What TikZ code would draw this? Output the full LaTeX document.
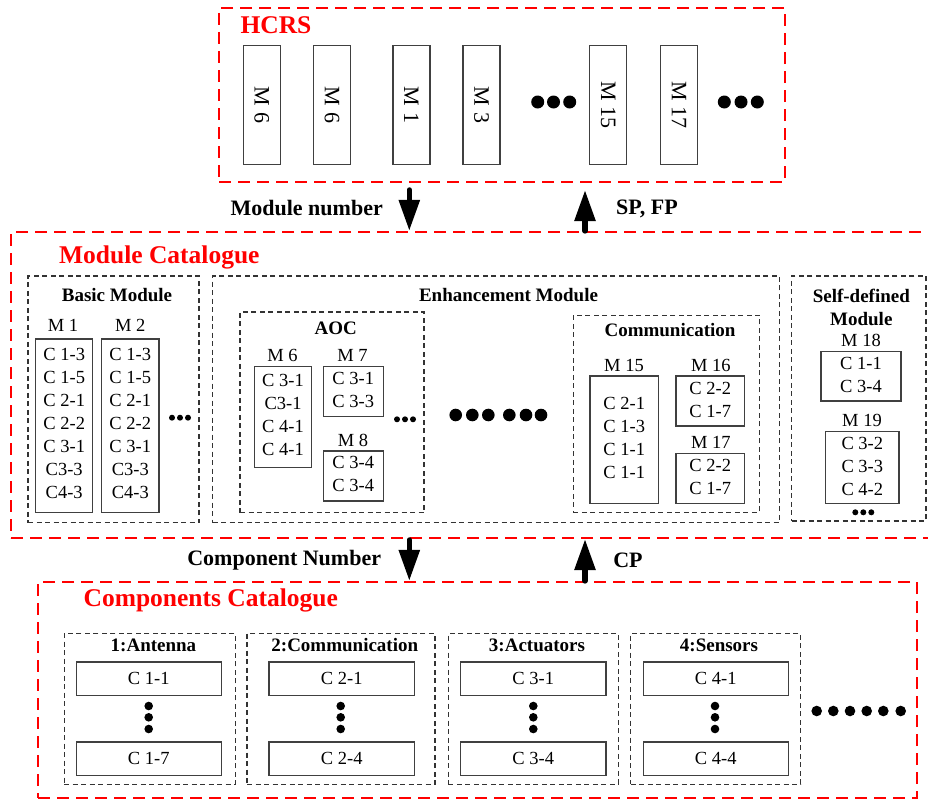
\documentclass[tikz,border=0pt]{standalone}
\usepackage{fontspec}
\setmainfont{Liberation Serif}
\usetikzlibrary{arrows.meta}
\begin{document}
\begin{tikzpicture}[x=1pt,y=-1pt,
  redbox/.style={draw=red, line width=2.2pt, dash pattern=on 12pt off 7pt, inner sep=0pt},
  grpbox/.style={draw=black!80, line width=1.1pt, dash pattern=on 5pt off 3.5pt, inner sep=0pt},
  mbox/.style={draw=black!75, line width=1.2pt, inner sep=0pt},
  hbox/.style={mbox, rotate=-90, minimum width=119pt, minimum height=37pt,
    font=\fontsize{22}{26}\selectfont},
  ctext/.style={inner sep=0pt, align=center, font=\fontsize{18.5}{23}\selectfont},
  subtitle/.style={inner sep=0pt, align=center, font=\bfseries\fontsize{19}{23.3}\selectfont},
  arrowlbl/.style={inner sep=0pt, font=\bfseries\fontsize{22}{26}\selectfont},
  redtitle/.style={inner sep=0pt, text=red, font=\bfseries\fontsize{25.5}{30}\selectfont},
  bigarrow/.style={line width=5.5pt, line cap=round, -{Triangle[length=31pt,width=20pt]}},
  dot/.style={fill=black}
]
\useasboundingbox (0,0) rectangle (928,800);
\clip (0,0) rectangle (928,800);

% ---------------- HCRS ----------------
\node[redbox, minimum width=566pt, minimum height=174pt] (hcrs) at (502,95) {};
\node[redtitle] (hcrsT) at (276,25) {HCRS};
\node[hbox] (h1) at (261.7,105) {M 6};
\node[hbox] (h2) at (332,105) {M 6};
\node[hbox] (h3) at (411.5,105) {M 1};
\node[hbox] (h4) at (481.5,105) {M 3};
\node[hbox] (h5) at (608.3,105) {M 15};
\node[hbox] (h6) at (679.2,105) {M 17};
\foreach \x in {537.7,553.5,569.7,724.3,741,757.3}
  \fill[dot] (\x,102) circle (6.5pt);

% ---------------- Module Catalogue ----------------
\node[redbox, minimum width=929pt, minimum height=306pt] (modcat) at (475.5,385) {};
\node[redtitle] (modcatT) at (159.3,257.3) {Module Catalogue};

% Basic modules
\node[grpbox, minimum width=171pt, minimum height=246.7pt] (basic) at (113.5,399.3) {};
\node[subtitle] (basicT) at (117,295) {Basic Module};
\node[ctext] (m1L) at (63,325.7) {M 1};
\node[mbox, minimum width=57pt, minimum height=173.7pt] (m1) at (64.2,425.8) {};
\node[ctext] at (64.2,423) {C 1-3\\C 1-5\\C 2-1\\C 2-2\\C 3-1\\C3-3\\C4-3};
\node[ctext] (m2L) at (130.3,325.7) {M 2};
\node[mbox, minimum width=57.3pt, minimum height=173.7pt] (m2) at (130.3,425.8) {};
\node[ctext] at (130.3,423) {C 1-3\\C 1-5\\C 2-1\\C 2-2\\C 3-1\\C3-3\\C4-3};
\foreach \x in {172,180,188}
  \fill[dot] (\x,417.7) circle (3pt);

% Enhancement modules
\node[grpbox, minimum width=566.6pt, minimum height=246.7pt] (enh) at (496,399.3) {};
\node[subtitle] (enhT) at (508.5,295) {Enhancement Module};

\node[grpbox, minimum width=184pt, minimum height=200.7pt] (aoc) at (332,412.3) {};
\node[subtitle] (aocT) at (335.8,328) {AOC};
\node[ctext] (m6L) at (282.5,355.7) {M 6};
\node[mbox, minimum width=57.4pt, minimum height=100.6pt] (m6) at (283,417) {};
\node[ctext] at (283,414.6) {C 3-1\\C3-1\\C 4-1\\C 4-1};
\node[ctext] (m7L) at (352.5,355.7) {M 7};
\node[mbox, minimum width=60pt, minimum height=50pt] (m7) at (353.3,391.7) {};
\node[ctext] at (353.3,390) {C 3-1\\C 3-3};
\node[ctext] (m8L) at (353,440) {M 8};
\node[mbox, minimum width=60pt, minimum height=50pt] (m8) at (353.3,476) {};
\node[ctext] at (353.3,474.2) {C 3-4\\C 3-4};
\foreach \x in {397,405,413}
  \fill[dot] (\x,419.3) circle (3pt);

\foreach \x in {455.7,472.3,488.3,509.3,526,541}
  \fill[dot] (\x,415) circle (6.3pt);

\node[grpbox, minimum width=186pt, minimum height=197.3pt] (comm) at (666.3,413.7) {};
\node[subtitle] (commT) at (670,330) {Communication};
\node[ctext] (m15L) at (624,365.7) {M 15};
\node[mbox, minimum width=68.3pt, minimum height=127.3pt] (m15) at (624.2,439.7) {};
\node[ctext] at (624.2,437.5) {C 2-1\\C 1-3\\C 1-1\\C 1-1};
\node[ctext] (m16L) at (710.8,365.7) {M 16};
\node[mbox, minimum width=68.3pt, minimum height=50pt] (m16) at (710.2,401) {};
\node[ctext] at (710.2,399.7) {C 2-2\\C 1-7};
\node[ctext] (m17L) at (710.8,442.3) {M 17};
\node[mbox, minimum width=68.3pt, minimum height=50pt] (m17) at (710.2,478.3) {};
\node[ctext] at (710.2,477) {C 2-2\\C 1-7};

% Self-defined modules
\node[grpbox, minimum width=134.3pt, minimum height=245pt] (self) at (858.8,398.5) {};
\node[subtitle] (selfT) at (861.3,307.3) {Self-defined\\Module};
\node[ctext] (m18L) at (861,340.7) {M 18};
\node[mbox, minimum width=80pt, minimum height=49.3pt] (m18) at (861,376.3) {};
\node[ctext] at (861,375) {C 1-1\\C 3-4};
\node[ctext] (m19L) at (862,420.7) {M 19};
\node[mbox, minimum width=73.3pt, minimum height=71.6pt] (m19) at (862.3,467.5) {};
\node[ctext] at (862.3,466.2) {C 3-2\\C 3-3\\C 4-2};
\foreach \x in {855.3,863.3,871.3}
  \fill[dot] (\x,512.3) circle (3pt);

% ---------------- Components Catalogue ----------------
\node[redbox, minimum width=879pt, minimum height=216pt] (compcat) at (477.5,690) {};
\node[redtitle] (compcatT) at (210.8,600) {Components Catalogue};

\node[grpbox, minimum width=171.3pt, minimum height=150.7pt] (ant) at (149.7,708.7) {};
\node[subtitle] (antT) at (153.5,645) {1:Antenna};
\node[mbox, minimum width=145pt, minimum height=33.3pt] (c11) at (148.8,678.7) {};
\node[ctext] at (148.8,678.7) {C 1-1};
\node[mbox, minimum width=145pt, minimum height=33.3pt] (c17) at (148.8,758.7) {};
\node[ctext] at (148.8,758.7) {C 1-7};

\node[grpbox, minimum width=188pt, minimum height=150.7pt] (com) at (341,708.7) {};
\node[subtitle] (comT) at (344.8,645) {2:Communication};
\node[mbox, minimum width=145.3pt, minimum height=33.3pt] (c21) at (341.7,678.7) {};
\node[ctext] at (341.7,678.7) {C 2-1};
\node[mbox, minimum width=145.3pt, minimum height=33.3pt] (c24) at (341.7,758.7) {};
\node[ctext] at (341.7,758.7) {C 2-4};

\node[grpbox, minimum width=170pt, minimum height=150.7pt] (act) at (533.3,708.7) {};
\node[subtitle] (actT) at (537,645) {3:Actuators};
\node[mbox, minimum width=145.3pt, minimum height=33.3pt] (c31) at (533.3,678.7) {};
\node[ctext] at (533.3,678.7) {C 3-1};
\node[mbox, minimum width=145.3pt, minimum height=33.3pt] (c34) at (533.3,758.7) {};
\node[ctext] at (533.3,758.7) {C 3-4};

\node[grpbox, minimum width=170pt, minimum height=150.7pt] (sen) at (715.7,708.7) {};
\node[subtitle] (senT) at (719,645) {4:Sensors};
\node[mbox, minimum width=145pt, minimum height=33.3pt] (c41) at (715.8,678.7) {};
\node[ctext] at (715.8,678.7) {C 4-1};
\node[mbox, minimum width=145pt, minimum height=33.3pt] (c44) at (715.8,758.7) {};
\node[ctext] at (715.8,758.7) {C 4-4};

\foreach \x in {148.7,340.7,533.3,715}
  \foreach \y in {706,717.3,729}
    \fill[dot] (\x,\y) circle (4.3pt);
\foreach \x in {816.7,833.3,850,866.7,883.3,900.7}
  \fill[dot] (\x,711) circle (5.3pt);

% ---------------- Flows between levels ----------------
\coordinate (mnTail) at (409.3,190);
\coordinate (spTip) at (585,190);
\coordinate (cnTail) at (409.3,540);
\coordinate (cpTip) at (585,539);
\draw[bigarrow] (mnTail) -- (mnTail |- modcat.north);
\draw[bigarrow] (spTip |- modcat.north) -- (spTip);
\draw[bigarrow] (cnTail) -- (cnTail |- compcat.north);
\draw[bigarrow] (cpTip |- compcat.north) -- (cpTip);
\node[arrowlbl] (mnL) at (306.7,208.3) {Module number};
\node[arrowlbl] (spL) at (647,209.3) {SP, FP};
\node[arrowlbl] (cnL) at (284.2,560.7) {Component Number};
\node[arrowlbl] (cpL) at (628,560.7) {CP};
\end{tikzpicture}
\end{document}
